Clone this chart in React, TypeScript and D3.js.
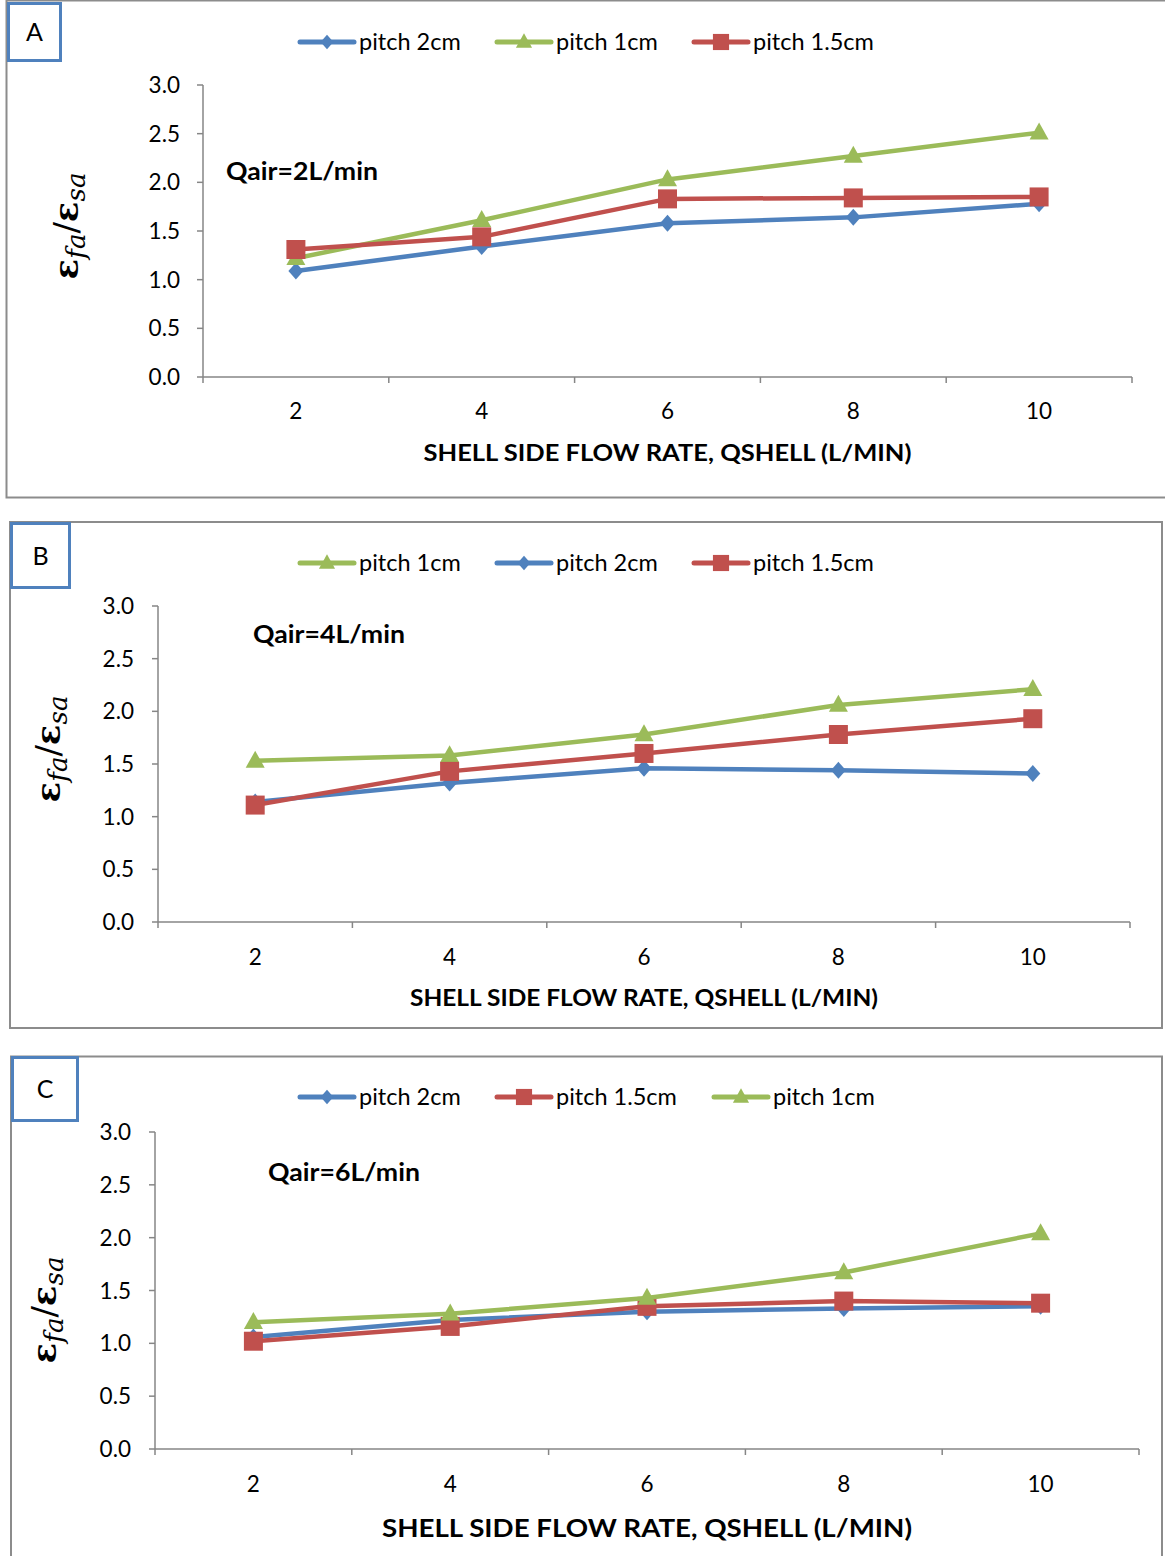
import React from "react";
import * as d3 from "d3";

// Shell side flow rate categories (L/min)
const flowRates = ["2", "4", "6", "8", "10"];
const yTicks = [0, 0.5, 1, 1.5, 2, 2.5, 3];

// Qair = 2 L/min
const a_pitch2 = [1.09, 1.34, 1.58, 1.64, 1.78];
const a_pitch1 = [1.22, 1.61, 2.03, 2.27, 2.51];
const a_pitch15 = [1.31, 1.44, 1.83, 1.84, 1.85];

// Qair = 4 L/min
const b_pitch1 = [1.53, 1.58, 1.78, 2.06, 2.21];
const b_pitch2 = [1.14, 1.32, 1.46, 1.44, 1.41];
const b_pitch15 = [1.11, 1.43, 1.6, 1.78, 1.93];

// Qair = 6 L/min
const c_pitch2 = [1.06, 1.22, 1.3, 1.33, 1.35];
const c_pitch15 = [1.02, 1.16, 1.35, 1.4, 1.38];
const c_pitch1 = [1.2, 1.28, 1.43, 1.67, 2.04];

const BLUE = "#4f81bd";
const GREEN = "#9bbb59";
const RED = "#c0504d";
const AXIS = "#868686";
const FONT = "Lato, 'Open Sans', sans-serif";

type Marker = "diamond" | "triangle" | "square";
type Series = { name: string; values: number[]; color: string; marker: Marker };

const markerPath = (m: Marker, cx: number, cy: number, k = 1) => {
  if (m === "diamond") {
    const w = 7.5 * k, h = 8.5 * k;
    return `M${cx},${cy - h}L${cx + w},${cy}L${cx},${cy + h}L${cx - w},${cy}Z`;
  }
  if (m === "triangle") {
    const w = 9.5 * k, h = 17 * k;
    return `M${cx},${cy - h * 0.6}L${cx + w},${cy + h * 0.4}L${cx - w},${cy + h * 0.4}Z`;
  }
  const s = 9.5 * k;
  return `M${cx - s},${cy - s}H${cx + s}V${cy + s}H${cx - s}Z`;
};

type PanelProps = {
  letter: string;
  box: [number, number, number, number];
  tag: [number, number, number, number];
  plot: { x0: number; x1: number; y0: number; y3: number };
  series: Series[];
  legend: { y: number; xs: number[] };
  qair: { text: string; x: number; y: number };
  yLabel: { x: number; y: number };
  tickLabelY: number;
  yTickLabelX: number;
  title: { y: number; size: number; width: number };
};

function Panel(p: PanelProps) {
  const x = d3.scaleBand<string>().domain(flowRates).range([p.plot.x0, p.plot.x1]).padding(0);
  const y = d3.scaleLinear().domain([0, 3]).range([p.plot.y0, p.plot.y3]);
  const cx = (c: string) => (x(c) ?? 0) + x.bandwidth() / 2;
  const line = d3
    .line<number>()
    .x((_, i) => cx(flowRates[i]))
    .y((v) => y(v));
  const bounds = flowRates.map((c) => x(c) ?? 0).concat([p.plot.x1]);
  const [bx, by, bw, bh] = p.box;
  const [tx, ty, tw, th] = p.tag;
  const titleX = (p.plot.x0 + p.plot.x1) / 2;

  return (
    <g>
      <rect x={bx} y={by} width={bw} height={bh} fill="#fff" stroke="#8c8c8c" strokeWidth={2} />
      <rect x={tx} y={ty} width={tw} height={th} fill="#fff" stroke={BLUE} strokeWidth={3} />
      <text x={tx + tw / 2} y={ty + th / 2 + 9} textAnchor="middle" fontSize={25} fontFamily={FONT}>
        {p.letter}
      </text>

      {/* legend */}
      {p.series.map((s, i) => {
        const lx = p.legend.xs[i];
        return (
          <g key={s.name}>
            <line x1={lx} x2={lx + 54} y1={p.legend.y} y2={p.legend.y} stroke={s.color} strokeWidth={5} strokeLinecap="round" />
            <path d={markerPath(s.marker, lx + 27, p.legend.y, 0.85)} fill={s.color} />
            <text x={lx + 59} y={p.legend.y + 8} fontSize={23.5} fontFamily={FONT} fill="#000">
              {s.name}
            </text>
          </g>
        );
      })}

      {/* y axis */}
      <line x1={p.plot.x0} x2={p.plot.x0} y1={p.plot.y3} y2={p.plot.y0} stroke={AXIS} strokeWidth={1.5} />
      {yTicks.map((t) => (
        <g key={t}>
          <line x1={p.plot.x0 - 6} x2={p.plot.x0} y1={y(t)} y2={y(t)} stroke={AXIS} strokeWidth={1.5} />
          <text x={p.yTickLabelX} y={y(t) + 8} textAnchor="end" fontSize={22.5} fontFamily={FONT}>
            {d3.format(".1f")(t)}
          </text>
        </g>
      ))}

      {/* x axis */}
      <line x1={p.plot.x0} x2={p.plot.x1} y1={p.plot.y0} y2={p.plot.y0} stroke={AXIS} strokeWidth={1.5} />
      {bounds.map((b, i) => (
        <line key={i} x1={b} x2={b} y1={p.plot.y0} y2={p.plot.y0 + 6} stroke={AXIS} strokeWidth={1.5} />
      ))}
      {flowRates.map((c) => (
        <text key={c} x={cx(c)} y={p.tickLabelY} textAnchor="middle" fontSize={22.5} fontFamily={FONT}>
          {c}
        </text>
      ))}
      <text
        x={titleX}
        y={p.title.y}
        textAnchor="middle"
        fontSize={p.title.size}
        fontWeight="bold"
        fontFamily={FONT}
        textLength={p.title.width}
        lengthAdjust="spacingAndGlyphs"
      >
        SHELL SIDE FLOW RATE, QSHELL (L/MIN)
      </text>

      {/* y axis label */}
      <text
        transform={`translate(${p.yLabel.x},${p.yLabel.y}) rotate(-90)`}
        textAnchor="middle"
        fontFamily="'DejaVu Serif', serif"
        fontSize={34}
      >
        <tspan fontWeight="bold">ε</tspan>
        <tspan fontStyle="italic" fontSize={26} dy={7}>fa</tspan>
        <tspan dy={-7}>/</tspan>
        <tspan fontWeight="bold">ε</tspan>
        <tspan fontStyle="italic" fontSize={26} dy={7}>sa</tspan>
      </text>

      <text
        x={p.qair.x}
        y={p.qair.y}
        fontSize={24}
        fontWeight="bold"
        fontFamily={FONT}
        textLength={152}
        lengthAdjust="spacingAndGlyphs"
      >
        {p.qair.text}
      </text>

      {/* series */}
      {p.series.map((s) => (
        <g key={s.name}>
          <path d={line(s.values) ?? ""} fill="none" stroke={s.color} strokeWidth={4.5} strokeLinejoin="round" />
          {s.values.map((v, i) => (
            <path key={i} d={markerPath(s.marker, cx(flowRates[i]), y(v))} fill={s.color} />
          ))}
        </g>
      ))}
    </g>
  );
}

export default function App() {
  const pitch2 = (values: number[]): Series => ({ name: "pitch 2cm", values, color: BLUE, marker: "diamond" });
  const pitch1 = (values: number[]): Series => ({ name: "pitch 1cm", values, color: GREEN, marker: "triangle" });
  const pitch15 = (values: number[]): Series => ({ name: "pitch 1.5cm", values, color: RED, marker: "square" });

  return (
    <svg
      width={1165}
      height={1556}
      style={{ position: "absolute", left: 0, top: 0, background: "#fff" }}
    >
      <Panel
        letter="A"
        box={[6.5, 0.5, 1160, 497]}
        tag={[8.5, 3.5, 52, 57]}
        plot={{ x0: 203, x1: 1132, y0: 377, y3: 85 }}
        series={[pitch2(a_pitch2), pitch1(a_pitch1), pitch15(a_pitch15)]}
        legend={{ y: 42, xs: [300, 497, 694] }}
        qair={{ text: "Qair=2L/min", x: 226, y: 180 }}
        yLabel={{ x: 78, y: 226 }}
        tickLabelY={419}
        yTickLabelX={180}
        title={{ y: 461, size: 22, width: 488 }}
      />
      <Panel
        letter="B"
        box={[10, 522, 1152, 506]}
        tag={[11.5, 523.5, 58, 64]}
        plot={{ x0: 158, x1: 1130, y0: 922, y3: 606 }}
        series={[pitch1(b_pitch1), pitch2(b_pitch2), pitch15(b_pitch15)]}
        legend={{ y: 563, xs: [300, 497, 694] }}
        qair={{ text: "Qair=4L/min", x: 253, y: 643 }}
        yLabel={{ x: 60, y: 749 }}
        tickLabelY={965}
        yTickLabelX={134}
        title={{ y: 1006, size: 22, width: 468 }}
      />
      <Panel
        letter="C"
        box={[11, 1056.5, 1151, 520]}
        tag={[12.5, 1057.5, 65, 63]}
        plot={{ x0: 155, x1: 1139, y0: 1449, y3: 1132 }}
        series={[pitch2(c_pitch2), pitch15(c_pitch15), pitch1(c_pitch1)]}
        legend={{ y: 1097, xs: [300, 497, 714] }}
        qair={{ text: "Qair=6L/min", x: 268, y: 1181 }}
        yLabel={{ x: 56, y: 1310 }}
        tickLabelY={1492}
        yTickLabelX={131}
        title={{ y: 1537, size: 25, width: 530 }}
      />
    </svg>
  );
}
